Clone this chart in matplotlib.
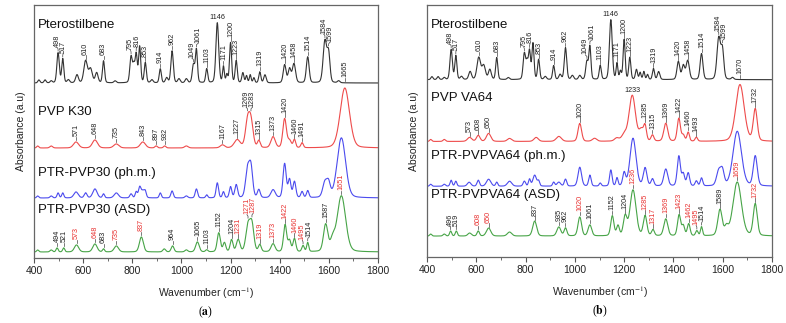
import numpy as np
import matplotlib.pyplot as plt

plt.rcParams['font.family'] = ['Liberation Sans', 'DejaVu Sans']
plt.rcParams['mathtext.fontset'] = 'stix'

# ---------------- data: peak tables (center, height, hwhm) ----------------
PTERO = [(420, 3, 4), (445, 3, 4), (470, 2, 4), (498, 30, 5), (517, 24, 4), (540, 3, 5), (575, 8, 6),
         (610, 22, 8), (630, 14, 8), (655, 10, 6), (683, 22, 4), (730, 2, 5), (795, 26, 5), (806, 16, 4),
         (816, 28, 4), (830, 36, 4), (853, 20, 4), (880, 3, 5), (914, 14, 4), (940, 5, 5), (962, 32, 5),
         (990, 4, 5), (1020, 4, 5), (1049, 18, 5), (1061, 33, 4), (1103, 14, 4), (1146, 60, 6),
         (1171, 16, 3), (1185, 8, 3), (1200, 40, 4), (1223, 22, 4), (1250, 10, 4), (1265, 7, 3),
         (1280, 8, 3), (1295, 5, 3), (1319, 11, 4), (1340, 8, 5), (1420, 18, 6), (1440, 14, 6),
         (1458, 19, 7), (1514, 26, 6), (1584, 42, 8), (1599, 28, 6), (1640, 2, 5)]

PVP_K30 = [(415, 2, 4), (470, 2, 6), (571, 6, 12), (648, 8, 12), (735, 4, 12), (843, 6, 12), (897, 2, 5),
           (932, 2, 5), (1020, 2, 8), (1167, 3, 10), (1227, 8, 14), (1269, 25, 10), (1283, 25, 10),
           (1315, 7, 6), (1373, 11, 10), (1420, 29, 8), (1440, 7, 8), (1460, 8, 5), (1491, 5, 5),
           (1665, 60, 22)]

PM_PVP30 = [(415, 2, 4), (470, 2, 5), (498, 5, 4), (517, 5, 4), (571, 6, 10), (610, 5, 6), (648, 9, 10),
            (683, 4, 4), (735, 5, 10), (795, 4, 5), (816, 6, 4), (830, 10, 5), (843, 7, 8), (853, 5, 4),
            (914, 5, 4), (962, 7, 5), (1020, 2, 6), (1061, 9, 5), (1103, 3, 4), (1146, 15, 5),
            (1171, 6, 4), (1200, 11, 5), (1223, 13, 6), (1269, 28, 9), (1283, 29, 8), (1315, 8, 6),
            (1373, 8, 10), (1420, 34, 7), (1440, 18, 6), (1460, 16, 6), (1491, 6, 5), (1514, 7, 5),
            (1584, 15, 10), (1599, 13, 8), (1651, 60, 20)]

ASD_PVP30 = [(415, 2, 4), (470, 2, 5), (494, 4, 4), (521, 4, 4), (573, 7, 10), (648, 8, 10), (683, 3, 4),
             (735, 6, 10), (837, 15, 9), (930, 3, 6), (964, 6, 6), (1020, 2, 6), (1065, 10, 8),
             (1103, 2, 5), (1152, 19, 7), (1175, 9, 6), (1204, 12, 6), (1231, 12, 8), (1271, 26, 10),
             (1287, 26, 9), (1319, 7, 6), (1373, 8, 9), (1422, 27, 7), (1440, 11, 6), (1460, 13, 6),
             (1495, 6, 5), (1514, 9, 4), (1587, 27, 10), (1615, 10, 10), (1651, 56, 20)]

PVP_VA64 = [(415, 2, 4), (470, 2, 5), (573, 4, 10), (608, 6, 8), (650, 8, 10), (735, 3, 10), (843, 4, 10),
            (935, 5, 12), (1020, 18, 8), (1080, 3, 10), (1170, 3, 10), (1200, 6, 12), (1233, 46, 15),
            (1270, 11, 10), (1285, 14, 6), (1315, 6, 6), (1369, 18, 9), (1422, 23, 7), (1440, 6, 6),
            (1460, 9, 5), (1493, 4, 5), (1670, 57, 20), (1732, 32, 9)]

PM_VA64 = [(415, 2, 4), (470, 2, 5), (498, 6, 4), (517, 5, 4), (571, 4, 8), (608, 6, 5), (650, 7, 10),
           (683, 4, 4), (735, 5, 10), (795, 5, 5), (816, 7, 4), (837, 11, 8), (853, 5, 4), (914, 4, 4),
           (935, 4, 8), (962, 7, 5), (1020, 19, 8), (1061, 11, 5), (1103, 3, 4), (1146, 16, 5),
           (1171, 8, 4), (1200, 13, 6), (1236, 48, 14), (1285, 18, 8), (1315, 7, 6), (1369, 17, 9),
           (1422, 30, 7), (1440, 12, 6), (1460, 13, 6), (1493, 5, 5), (1514, 8, 5), (1584, 15, 10),
           (1599, 14, 8), (1659, 55, 20), (1732, 30, 9)]

ASD_VA64 = [(415, 2, 4), (470, 2, 5), (496, 5, 4), (519, 5, 4), (573, 3, 8), (608, 5, 5), (650, 8, 10),
            (735, 4, 10), (837, 15, 9), (935, 9, 9), (962, 8, 6), (1020, 19, 8), (1061, 11, 8),
            (1152, 20, 7), (1175, 10, 6), (1204, 19, 8), (1236, 46, 14), (1285, 20, 8), (1317, 6, 6),
            (1369, 17, 9), (1423, 21, 7), (1440, 10, 6), (1462, 12, 6), (1495, 5, 5), (1514, 9, 4),
            (1589, 26, 10), (1615, 8, 8), (1659, 54, 20), (1732, 32, 9)]

# peak labels: wavenumber, or (wavenumber, red)
LBL_PTERO_A = [498, 517, 610, 683, 795, 816, 853, 914, 962, 1049, 1061, 1103, 1146, 1171, 1200, 1223,
               1319, 1420, 1458, 1514, 1584, 1599, 1665]
LBL_PTERO_B = [498, 517, 610, 683, 795, 816, 853, 914, 962, 1049, 1061, 1103, 1146, 1171, 1200, 1223,
               1319, 1420, 1458, 1514, 1584, 1599, 1670]
LBL_K30 = [571, 648, 735, 843, 897, 932, 1167, 1227, 1269, 1283, 1315, 1373, 1420, 1460, 1491]
LBL_ASD30 = [(494, 0), (521, 0), (573, 1), (648, 1), (683, 0), (735, 1), (837, 1), (964, 0), (1065, 0),
             (1103, 0), (1152, 0), (1204, 0), (1231, 1), (1271, 1), (1287, 1), (1319, 1), (1373, 1),
             (1422, 1), (1460, 1), (1495, 1), (1514, 0), (1587, 0), (1651, 1)]
LBL_VA64 = [573, 608, 650, 1020, 1233, 1285, 1315, 1369, 1422, 1460, 1493, 1732]
LBL_ASD64 = [(496, 0), (519, 0), (608, 1), (650, 1), (837, 0), (935, 0), (962, 0), (1020, 1), (1061, 0),
             (1152, 0), (1204, 0), (1236, 1), (1285, 1), (1317, 1), (1369, 1), (1423, 1), (1462, 1),
             (1495, 1), (1514, 0), (1589, 0), (1659, 1), (1732, 1)]
# labels written flat above their peak instead of upright
FLAT_LABELS = {1146, 1233}

# ---------------- helpers ----------------
x = np.linspace(400, 1800, 2801)
RES = 3.0  # extra instrument broadening, cm-1


def spectrum(peaks):
    y = np.zeros_like(x)
    for c, h, w in peaks:
        w = np.hypot(w, RES)
        u = (x - c) / w
        y += h * (0.8 * np.exp(-np.log(2) * u ** 2) + 0.2 / (1 + u ** 2))
    return y


K = '#333333'
R = '#ee4b4b'
B = '#4b4bee'
G = '#47a447'
RED_TXT = '#e8302f'
YTOP = 253
SEP = 25
FS_PEAK = 5.2


def label_peaks(ax, y, base, labels):
    items = []
    for item in labels:
        wn, red = item if isinstance(item, tuple) else (item, 0)
        m = (x > wn - 4) & (x < wn + 4)
        items.append([wn, base + y[m].max(), red])
    vertical = [it for it in items if it[0] not in FLAT_LABELS]
    for wn, top, red in items:
        if wn in FLAT_LABELS:
            ax.text(wn, top + 1.5, str(wn), fontsize=FS_PEAK, ha='center', va='bottom',
                    color=RED_TXT if red else '#222222')
    # group labels that would collide and spread each group around its centre
    groups = []
    for it in sorted(vertical):
        g = groups[-1] if groups else None
        if g and it[0] - g[-1][0] < SEP and abs(it[1] - g[-1][1]) < 17:
            g.append(it)
        else:
            groups.append([it])
    for g in groups:
        centre = np.mean([it[0] for it in g])
        for i, (wn, top, red) in enumerate(g):
            tx = centre + (i - (len(g) - 1) / 2) * SEP if len(g) > 1 else wn
            ax.plot([wn, wn, tx], [top + 1.5, top + 3.5, top + 5], color='#444444', lw=0.5)
            ax.text(tx, top + 5.5, str(wn), fontsize=FS_PEAK, rotation=90, ha='center', va='bottom',
                    color=RED_TXT if red else '#222222')


fig = plt.figure(figsize=(7.86, 3.23), dpi=100)
ax_a = fig.add_axes([34 / 786, 65 / 323, 344 / 786, 253 / 323])
ax_b = fig.add_axes([427 / 786, 66 / 323, 345 / 786, 252 / 323])

panels = [
    (ax_a, [(PTERO, K, 175, 'Pterostilbene', 233, LBL_PTERO_A),
            (PVP_K30, R, 110, 'PVP K30', 146, LBL_K30),
            (PM_PVP30, B, 60, 'PTR-PVP30 (ph.m.)', 85, []),
            (ASD_PVP30, G, 6, 'PTR-PVP30 (ASD)', 48, LBL_ASD30)], 'a'),
    (ax_b, [(PTERO, K, 178, 'Pterostilbene', 233, LBL_PTERO_B),
            (PVP_VA64, R, 116, 'PVP VA64', 160, LBL_VA64),
            (PM_VA64, B, 71, 'PTR-PVPVA64 (ph.m.)', 101, []),
            (ASD_VA64, G, 21, 'PTR-PVPVA64 (ASD)', 62, LBL_ASD64)], 'b'),
]

for ax, curves, tag in panels:
    for peaks, col, base, name, ly, labels in curves:
        y = spectrum(peaks)
        ax.plot(x, base + y, color=col, lw=0.8)
        ax.text(416, ly, name, fontsize=9.5, ha='left', va='center', color='#111111')
        label_peaks(ax, y, base, labels)
    ax.set_xlim(400, 1800)
    ax.set_ylim(0, YTOP)
    ax.set_yticks([])
    ax.set_xticks(range(400, 1801, 200))
    ax.set_xticks(range(500, 1800, 200), minor=True)
    ax.tick_params(axis='x', which='major', direction='out', length=3.5, width=0.8, labelsize=7.5,
                   colors='#555555', labelcolor='#222222', pad=2)
    ax.tick_params(axis='x', which='minor', direction='out', length=2.5, width=0.6, colors='#555555')
    for s in ax.spines.values():
        s.set_color('#666666')
        s.set_linewidth(0.9)
    ax.set_xlabel('Wavenumber (cm$^{-1}$)', fontsize=7.5, labelpad=7, color='#222222')
    ax.set_ylabel('Absorbance (a.u)', fontsize=7.5, labelpad=6, color='#222222')
    ax.text(0.5, -0.215, r'($\mathbf{' + tag + '}$)', transform=ax.transAxes,
            fontsize=8.5, ha='center', va='center', family='Liberation Serif')

fig.savefig('out.png', dpi=100)
